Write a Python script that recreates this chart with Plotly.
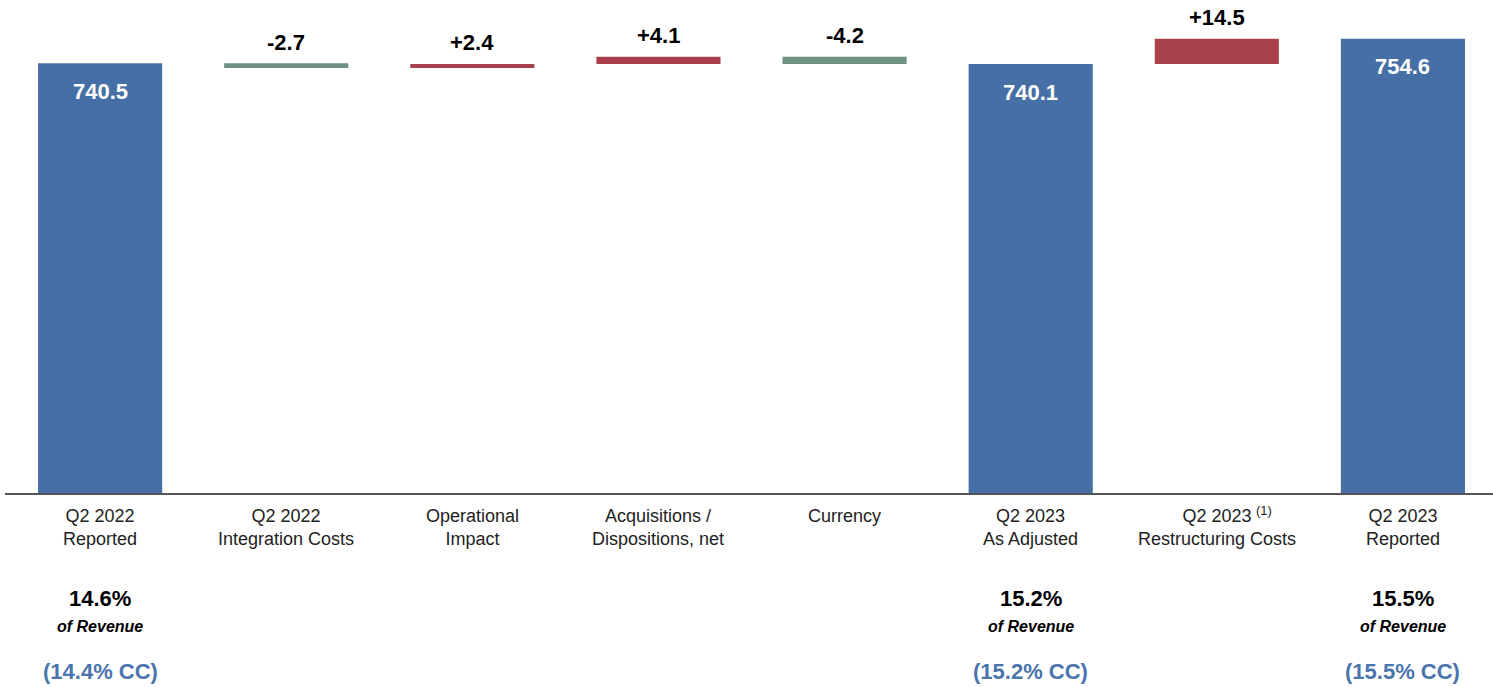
import plotly.graph_objects as go

categories = ["Q2 2022<br>Reported", "Q2 2022<br>Integration Costs", "Operational<br>Impact",
              "Acquisitions /<br>Dispositions, net", "Currency", "Q2 2023<br>As Adjusted",
              "Q2 2023<br>Restructuring Costs", "Q2 2023<br>Reported"]
footnotes = ["", "", "", "", "", "", "(1)", ""]
measures = ["absolute", "relative", "relative", "relative", "relative", "total", "relative", "total"]
values = [740.5, -2.7, 2.4, 4.1, -4.2, 740.1, 14.5, 754.6]
value_labels = ["740.5", "-2.7", "+2.4", "+4.1", "-4.2", "740.1", "+14.5", "754.6"]
pct_labels = ["14.6%", "", "", "", "", "15.2%", "", "15.5%"]
cc_labels = ["(14.4% CC)", "", "", "", "", "(15.2% CC)", "", "(15.5% CC)"]

BLUE = "#456fa5"
RED = "#a8414b"
GREEN = "#6d9281"
CC_BLUE = "#4a74ad"
FONT = "Liberation Sans, Arial, sans-serif"

Y0, Y1 = 495, 776.7

x = list(range(len(categories)))
bases, heights, colors = [], [], []
running = 0.0
for m, v in zip(measures, values):
    if m in ("absolute", "total"):
        bases.append(0)
        heights.append(v)
        colors.append(BLUE)
        running = v
    else:
        bases.append(running)
        heights.append(v)
        colors.append(RED if v > 0 else GREEN)
        running += v

fig = go.Figure(go.Bar(x=x, y=heights, base=bases, marker=dict(color=colors, line=dict(width=0)),
                       width=0.667, hoverinfo="skip"))

ann = []
for i, (m, v, lab) in enumerate(zip(measures, values, value_labels)):
    if m in ("absolute", "total"):
        ann.append(dict(x=i, y=v, xref="x", yref="y", text=f"<b>{lab}</b>", showarrow=False,
                        yanchor="middle", yshift=-28, font=dict(family=FONT, size=22, color="white")))
    else:
        top = bases[i] + max(v, 0)
        ann.append(dict(x=i, y=top, xref="x", yref="y", text=f"<b>{lab}</b>", showarrow=False,
                        yanchor="middle", yshift=21, font=dict(family=FONT, size=22, color="black")))

H = 493.0
def py(px):
    return (H - px) / H

for i, c in enumerate(categories):
    ann.append(dict(x=i, y=py(504), xref="x", yref="paper", text=c, showarrow=False,
                    yanchor="top", align="center",
                    font=dict(family=FONT, size=18, color="#222222")))
    if footnotes[i]:
        ann.append(dict(x=i, y=py(511), xref="x", yref="paper", text=footnotes[i], showarrow=False,
                        xanchor="left", yanchor="middle", xshift=37,
                        font=dict(family=FONT, size=13, color="#222222")))
    if pct_labels[i]:
        ann.append(dict(x=i, y=py(598), xref="x", yref="paper", text=f"<b>{pct_labels[i]}</b>",
                        showarrow=False, yanchor="middle",
                        font=dict(family=FONT, size=22, color="black")))
        ann.append(dict(x=i, y=py(626), xref="x", yref="paper", text="<b><i>of Revenue</i></b>",
                        showarrow=False, yanchor="middle",
                        font=dict(family=FONT, size=16, color="black")))
        ann.append(dict(x=i, y=py(671), xref="x", yref="paper", text=f"<b>{cc_labels[i]}</b>",
                        showarrow=False, yanchor="middle",
                        font=dict(family=FONT, size=22, color=CC_BLUE)))

fig.update_layout(
    width=1493, height=687,
    margin=dict(l=5, r=0, t=0, b=194),
    plot_bgcolor="white", paper_bgcolor="white",
    showlegend=False,
    annotations=ann,
    xaxis=dict(range=[-0.511, 7.484], showticklabels=False, showgrid=False, zeroline=False,
               showline=True, linecolor="#555555", linewidth=2, ticks=""),
    yaxis=dict(range=[Y0, Y1], visible=False, showgrid=False, zeroline=False),
    font=dict(family=FONT),
)

fig.write_html("out.html", config={"displayModeBar": False},
               post_script="document.body.style.margin='0';")
